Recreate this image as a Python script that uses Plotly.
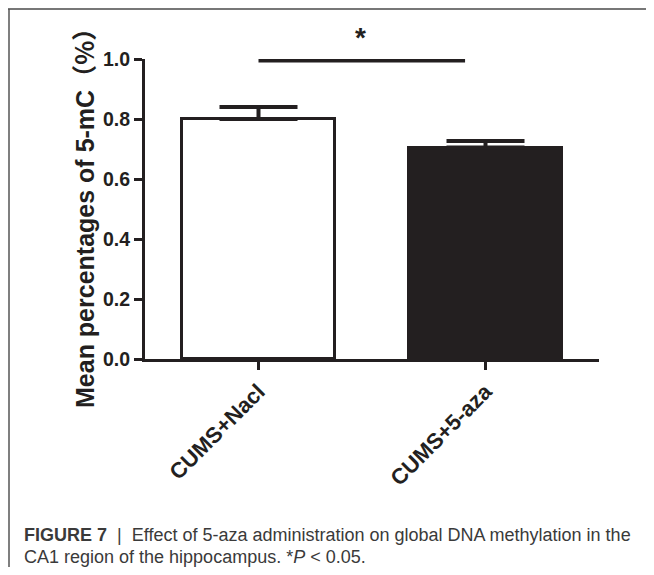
import plotly.graph_objects as go

# ---- data ----
categories = ["CUMS+Nacl", "CUMS+5-aza"]
means = [0.80, 0.705]
sem = [0.040, 0.022]
bar_colors = ["white", "#231f20"]
y_ticks = [0.0, 0.2, 0.4, 0.6, 0.8, 1.0]
sig_x = [0, 0.91]
sig_y = [0.995, 0.995]
sig_label = "*"
y_title_main = "Mean percentages of 5-mC"
y_title_unit = "（%）"
caption_l1 = "<b>FIGURE 7</b>  |  Effect of 5-aza administration on global DNA methylation in the"
caption_l2 = "CA1 region of the hippocampus. *<i>P</i> &lt; 0.05."

# page body has an 8px margin; work in reference-pixel coords and shift
OFF = 8
W, H = 654 - 2 * OFF, 575 - 2 * OFF
L = 145 - OFF
T = 59 - OFF
R = W - (599 - OFF)
B = H - (359 - OFF)
PW, PH = W - L - R, H - T - B

def px(x):
    return (x - OFF - L) / PW

def py(y):
    return (H - B - (y - OFF)) / PH

INK = "#231f20"
FONT = "Arial, Liberation Sans, Noto Sans CJK SC, sans-serif"
CJK = "Noto Sans CJK SC"

fig = go.Figure()
fig.add_trace(go.Bar(
    x=[0, 1], y=means, width=0.67,
    marker=dict(color=bar_colors, line=dict(color=INK, width=3)),
    error_y=dict(type="data", symmetric=False, array=sem, arrayminus=[0, 0],
                 color=INK, thickness=4, width=39),
    showlegend=False,
))
fig.add_trace(go.Scatter(
    x=sig_x, y=sig_y, mode="lines",
    line=dict(color=INK, width=4), showlegend=False, cliponaxis=False,
))

fig.update_xaxes(
    range=[-0.5, 1.5], tickvals=[0, 1], ticktext=categories, tickangle=-45,
    showline=True, linecolor=INK, linewidth=3, ticks="outside", ticklen=8,
    tickwidth=3, tickcolor=INK, showgrid=False, zeroline=False,
    tickfont=dict(family=FONT, size=22, color=INK, weight="bold"),
)
fig.update_yaxes(
    range=[0, 1], tickvals=y_ticks, tickformat=".1f",
    showline=True, linecolor=INK, linewidth=3, ticks="outside", ticklen=8,
    tickwidth=3, tickcolor=INK, showgrid=False, zeroline=False,
    tickfont=dict(family=FONT, size=19.5, color=INK, weight="bold"),
)

y_title = (y_title_main + "<span style='font-family:" + CJK + "'>"
           + y_title_unit + "</span>")

annotations = [
    dict(x=px(360), y=py(38), xref="paper", yref="paper", text=sig_label,
         xanchor="center", yanchor="middle", showarrow=False,
         font=dict(family=FONT, size=28, color=INK, weight="bold")),
    dict(x=px(83), y=py(212), xref="paper", yref="paper", text=y_title,
         xanchor="center", yanchor="middle", textangle=-90, showarrow=False,
         font=dict(family=FONT, size=25, color=INK, weight="bold")),
    dict(x=px(22), y=py(535), xref="paper", yref="paper", text=caption_l1,
         xanchor="left", yanchor="middle", showarrow=False,
         font=dict(family=FONT, size=18, color="#3a3a3a")),
    dict(x=px(22), y=py(557), xref="paper", yref="paper", text=caption_l2,
         xanchor="left", yanchor="middle", showarrow=False,
         font=dict(family=FONT, size=18, color="#3a3a3a")),
]

shapes = [
    dict(type="line", xref="paper", yref="paper", x0=px(8), x1=px(720),
         y0=py(9), y1=py(9), line=dict(color="#777777", width=2)),
    dict(type="line", xref="paper", yref="paper", x0=px(9), x1=px(9),
         y0=py(9), y1=py(640), line=dict(color="#555555", width=1.5)),
]

fig.update_layout(
    width=W, height=H, margin=dict(l=L, r=R, t=T, b=B, autoexpand=False),
    paper_bgcolor="white", plot_bgcolor="white",
    annotations=annotations, shapes=shapes, bargap=0,
)

fig.write_html("out.html")
